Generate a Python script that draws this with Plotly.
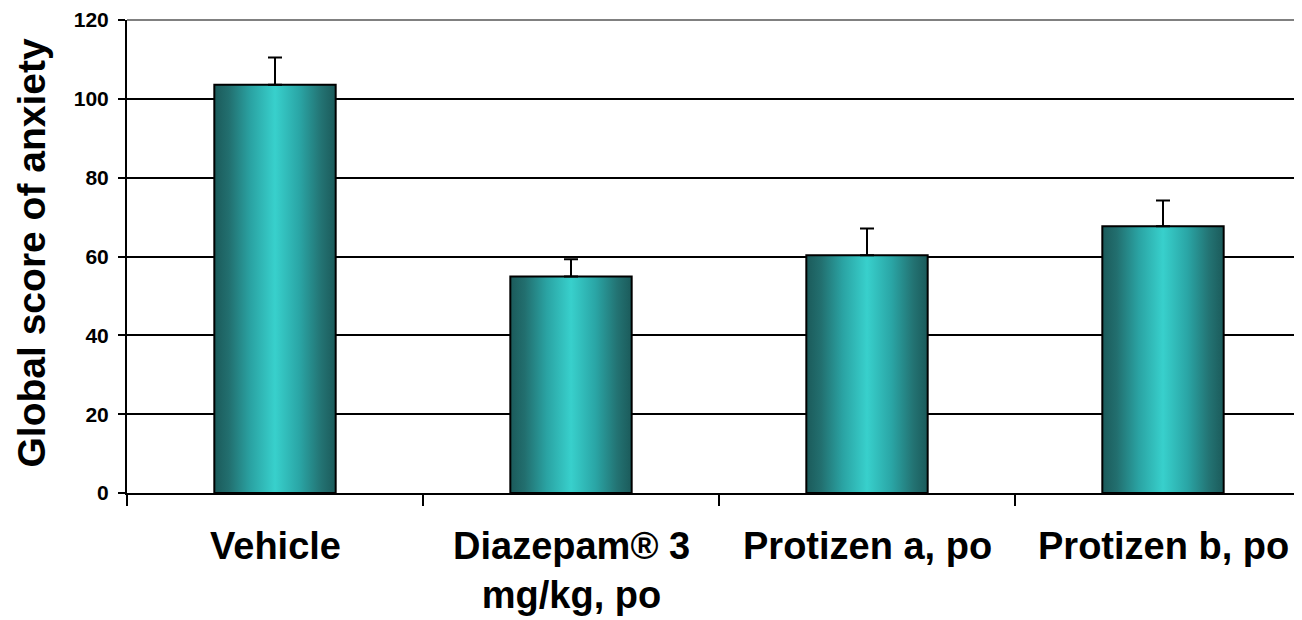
import plotly.graph_objects as go

categories = ["Vehicle", "Diazepam® 3<br>mg/kg, po", "Protizen a, po", "Protizen b, po"]
means = [103.6, 54.9, 60.3, 67.7]
errors_up = [6.9, 4.4, 6.8, 6.5]
y_ticks = [0, 20, 40, 60, 80, 100, 120]

BAR_HALF = 0.205
FONT = "Arial, Liberation Sans, sans-serif"
grad = [[0.0, "#1b5a5a"], [0.12, "#226f6f"], [0.3, "#2aa3a3"], [0.5, "#38d0cc"],
        [0.7, "#2aa6a6"], [0.88, "#237373"], [1.0, "#1b5a5a"]]

fig = go.Figure()
for i, v in enumerate(means):
    fig.add_trace(go.Scatter(
        x=[i - BAR_HALF, i - BAR_HALF, i + BAR_HALF, i + BAR_HALF, i - BAR_HALF],
        y=[0, v, v, 0, 0],
        mode="lines", fill="toself",
        fillgradient=dict(type="horizontal", colorscale=grad),
        line=dict(color="black", width=2),
        showlegend=False, hoverinfo="skip"))

fig.add_trace(go.Scatter(
    x=list(range(len(means))), y=means, mode="markers",
    marker=dict(size=1, opacity=0),
    error_y=dict(type="data", symmetric=False, array=errors_up,
                 arrayminus=[0] * len(means), color="black", thickness=2, width=7),
    showlegend=False))

for i, c in enumerate(categories):
    fig.add_annotation(x=i, xref="x", y=0, yref="paper", yanchor="top", yshift=-30,
                       text=c, showarrow=False, align="center",
                       font=dict(family=FONT, size=38, color="black", weight="bold"))

fig.add_annotation(x=0, xref="paper", y=0.5, yref="paper", xanchor="center", yanchor="middle",
                   xshift=-96, yshift=3, textangle=-90, text="Global score of anxiety",
                   showarrow=False,
                   font=dict(family=FONT, size=39, color="black", weight="bold"))

fig.add_shape(type="line", xref="paper", yref="paper", x0=0, x1=1, y0=1, y1=1,
              line=dict(color="#808080", width=2), layer="above")

n = len(categories)
fig.update_xaxes(range=[-0.5, -0.5 + 1175 / 296], tickvals=[k - 0.5 for k in range(n + 1)],
                 ticktext=[""] * (n + 1), ticks="outside", ticklen=11, tickwidth=1.5,
                 tickcolor="black", showgrid=False, zeroline=False,
                 showline=True, linecolor="black", linewidth=2)
fig.update_yaxes(range=[0, 120], tickvals=y_ticks, ticks="outside", ticklen=7, tickwidth=1.5,
                 tickcolor="black", showgrid=True, gridcolor="black", gridwidth=1.5,
                 zeroline=False, showline=True, linecolor="black", linewidth=2,
                 ticklabelstandoff=5,
                 tickfont=dict(family=FONT, size=21, color="black", weight="bold"))

fig.update_layout(width=1294, height=612, margin=dict(l=119, r=0, t=12, b=127),
                  plot_bgcolor="white", paper_bgcolor="white")

fig.write_html("out.html")
